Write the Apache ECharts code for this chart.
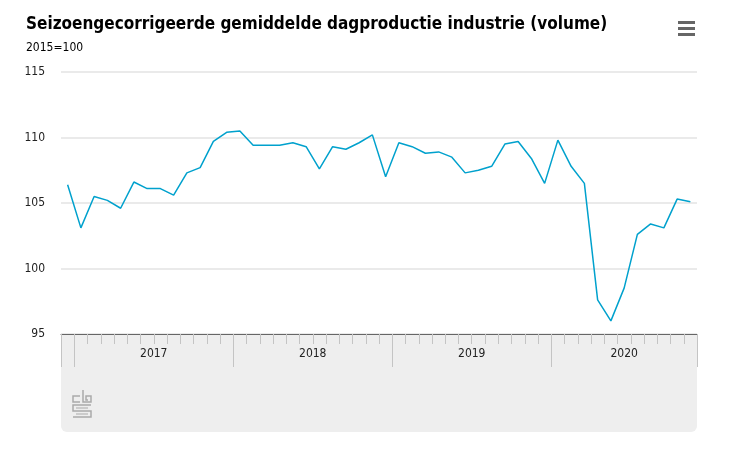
<!DOCTYPE html>
<html><head><meta charset="utf-8">
<script src="https://cdn.jsdelivr.net/npm/echarts@6/dist/echarts.min.js"></script>
<style>html,body{margin:0;padding:0;background:#fff}#c{width:738px;height:456px}</style>
</head><body><div id="c"></div>
<script>
const months = ['2016 december',
 '2017 januari','2017 februari','2017 maart','2017 april','2017 mei','2017 juni','2017 juli','2017 augustus','2017 september','2017 oktober','2017 november','2017 december',
 '2018 januari','2018 februari','2018 maart','2018 april','2018 mei','2018 juni','2018 juli','2018 augustus','2018 september','2018 oktober','2018 november','2018 december',
 '2019 januari','2019 februari','2019 maart','2019 april','2019 mei','2019 juni','2019 juli','2019 augustus','2019 september','2019 oktober','2019 november','2019 december',
 '2020 januari','2020 februari','2020 maart','2020 april','2020 mei','2020 juni','2020 juli','2020 augustus','2020 september','2020 oktober','2020 november'];
const values = [106.4,
 103.1,105.5,105.2,104.6,106.6,106.1,106.1,105.6,107.3,107.7,109.7,110.4,
 110.5,109.4,109.4,109.4,109.6,109.3,107.6,109.3,109.1,109.6,110.2,107.0,
 109.6,109.3,108.8,108.9,108.5,107.3,107.5,107.8,109.5,109.7,108.4,106.5,
 109.8,107.8,106.5,97.6,96.0,98.5,102.6,103.4,103.1,105.3,105.1];
const years = ['2017','2018','2019','2020'];
const yearBounds = [0,1,13,25,37,48];
const yearCenters = [7,19,31,42.5];
const yTicks = [95,100,105,110,115];

const FONT = "'Liberation Sans Narrow','DejaVu Sans Condensed','Noto Sans',sans-serif";
const chart = echarts.init(document.getElementById('c'));
chart.setOption({
  animation:false,
  textStyle:{fontFamily:FONT},
  title:{text:'Seizoengecorrigeerde gemiddelde dagproductie industrie (volume)',
    subtext:'2015=100', left:21, top:11, itemGap:9,
    textStyle:{fontSize:17,fontWeight:'bold',color:'#000',fontFamily:FONT},
    subtextStyle:{fontSize:12,color:'#000',fontFamily:FONT}},
  graphic:[
    {type:'rect', z:-10, shape:{x:61,y:334,width:636,height:98,r:[0,0,6,6]}, style:{fill:'#eeeeee'}},
    {type:'rect', shape:{x:678,y:21,width:17,height:3}, style:{fill:'#666'}},
    {type:'rect', shape:{x:678,y:27,width:17,height:3}, style:{fill:'#666'}},
    {type:'rect', shape:{x:678,y:33,width:17,height:3}, style:{fill:'#666'}},
    {type:'group', x:72, y:390, children:[
      {type:'polyline', shape:{points:[[8,6],[1,6],[1,12],[8,12]]}, style:{stroke:'#aaa',lineWidth:1.5,fill:null}},
      {type:'polyline', shape:{points:[[11,0],[11,12],[19,12],[19,6],[14,6],[14,10],[16,10]]}, style:{stroke:'#aaa',lineWidth:1.5,fill:null}},
      {type:'polyline', shape:{points:[[19,15],[1,15],[1,21],[19,21],[19,27],[1,27]]}, style:{stroke:'#aaa',lineWidth:1.5,fill:null}},
      {type:'polyline', shape:{points:[[16,18],[4,18]]}, style:{stroke:'#aaa',lineWidth:1,fill:null}},
      {type:'polyline', shape:{points:[[4,24],[16,24]]}, style:{stroke:'#aaa',lineWidth:1,fill:null}}
    ]}
  ],
  grid:{left:61,right:41,top:72,bottom:122},
  xAxis:[
    {type:'category', data:months, boundaryGap:true,
     axisLine:{lineStyle:{color:'#666',width:1}},
     axisTick:{show:true,interval:0,length:10,lineStyle:{color:'#c4c4c4'}},
     axisLabel:{show:false}, splitLine:{show:false}},
    {type:'value', min:0, max:48, position:'bottom',
     axisLine:{show:false},
     axisTick:{show:true,customValues:yearBounds,length:33,lineStyle:{color:'#c4c4c4'}},
     axisLabel:{show:true,customValues:yearCenters,margin:14,fontSize:12,color:'#222',
       formatter:function(v){return years[yearCenters.indexOf(v)]||'';}},
     splitLine:{show:false}}
  ],
  yAxis:{type:'value', min:95, max:115, interval:5,
    axisLine:{show:false}, axisTick:{show:false},
    axisLabel:{margin:16,fontSize:12,color:'#222'},
    splitLine:{lineStyle:{color:'#e3e3e3',width:1.5}}},
  series:[{type:'line', data:values, showSymbol:false, symbol:'none',
    lineStyle:{color:'#00a1cd',width:1.5}, xAxisIndex:0}]
});
</script></body></html>
